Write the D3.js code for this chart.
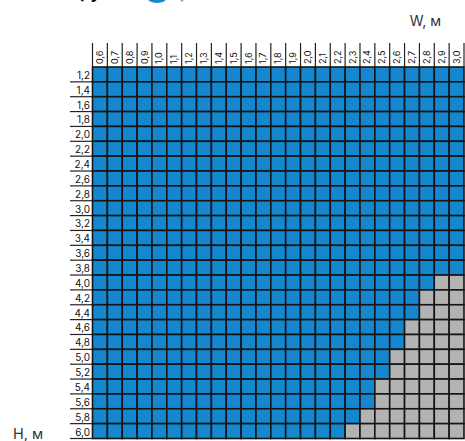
<!DOCTYPE html>
<html>
<head>
<meta charset="utf-8">
<script src="https://cdn.jsdelivr.net/npm/d3@7"></script>
<style>
  html, body { margin: 0; padding: 0; background: #fff; }
  svg { display: block; font-family: Inter, "Noto Sans", sans-serif; }
</style>
</head>
<body>
<svg id="chart" width="465" height="441"></svg>
<script>
// Width values (columns), metres
const widths = ["0,6","0,7","0,8","0,9","1,0","1,1","1,2","1,3","1,4","1,5","1,6","1,7","1,8","1,9","2,0","2,1","2,2","2,3","2,4","2,5","2,6","2,7","2,8","2,9","3,0"];
// Height values (rows), metres
const heights = ["1,2","1,4","1,6","1,8","2,0","2,2","2,4","2,6","2,8","3,0","3,2","3,4","3,6","3,8","4,0","4,2","4,4","4,6","4,8","5,0","5,2","5,4","5,6","5,8","6,0"];
// Maximum available width for each height
const maxWidth = [3.0,3.0,3.0,3.0,3.0,3.0,3.0,3.0,3.0,3.0,3.0,3.0,3.0,3.0,2.8,2.7,2.7,2.6,2.6,2.5,2.5,2.4,2.4,2.3,2.2];

const num = s => +s.replace(",", ".");

const svg = d3.select("#chart");

const x = d3.scaleBand().domain(widths).range([92.5, 464]).padding(0);
const y = d3.scaleBand().domain(heights).range([67, 438.5]).padding(0);

// clipped title remnants at top
svg.append("text").attr("x", 80).attr("y", -2).attr("font-size", 17).attr("font-weight", 700)
  .attr("fill", "#111").text("руб");
svg.append("ellipse").attr("cx", 157).attr("cy", -3).attr("rx", 10).attr("ry", 6).attr("fill", "#1587cf");
svg.append("circle").attr("cx", 182).attr("cy", 0).attr("r", 1.5).attr("fill", "#999");

// cells
const cells = [];
heights.forEach((h, i) => widths.forEach(w => cells.push({h, w, ok: num(w) <= maxWidth[i] + 1e-9})));

svg.append("g").selectAll("rect").data(cells).join("rect")
  .attr("x", d => x(d.w))
  .attr("y", d => y(d.h))
  .attr("width", x.bandwidth())
  .attr("height", y.bandwidth())
  .attr("fill", d => d.ok ? "#1587cf" : "#b3b3b3")
  .attr("stroke", "#151515")
  .attr("stroke-width", 1.6);

// column header separators
const colLines = svg.append("g");
widths.forEach(w => {
  colLines.append("line").attr("x1", x(w)).attr("x2", x(w)).attr("y1", 43).attr("y2", 67)
    .attr("stroke", "#222").attr("stroke-width", 1.2);
});
colLines.append("line").attr("x1", 464).attr("x2", 464).attr("y1", 43).attr("y2", 67)
  .attr("stroke", "#222").attr("stroke-width", 1.2);

// column labels
svg.append("g").selectAll("text").data(widths).join("text")
  .attr("transform", d => `translate(${x(d) + x.bandwidth() / 2 + 3},64) rotate(-90)`)
  .attr("text-anchor", "start")
  .attr("font-size", 9)
  .attr("fill", "#111")
  .text(d => d);

// row labels with underline
const rowG = svg.append("g");
heights.forEach(h => {
  rowG.append("line").attr("x1", 70).attr("x2", 92.5).attr("y1", y(h) + y.bandwidth()).attr("y2", y(h) + y.bandwidth())
    .attr("stroke", "#222").attr("stroke-width", 1.2);
  rowG.append("text").attr("x", 90).attr("y", y(h) + y.bandwidth() - 3)
    .attr("text-anchor", "end").attr("font-size", 10).attr("fill", "#111").text(h);
});

// axis titles
svg.append("text").attr("x", 441).attr("y", 26).attr("text-anchor", "end")
  .attr("font-size", 14).attr("fill", "#333").text("W, м");
svg.append("text").attr("x", 13).attr("y", 439)
  .attr("font-size", 14.5).attr("fill", "#333").text("Н, м");
</script>
</body>
</html>
